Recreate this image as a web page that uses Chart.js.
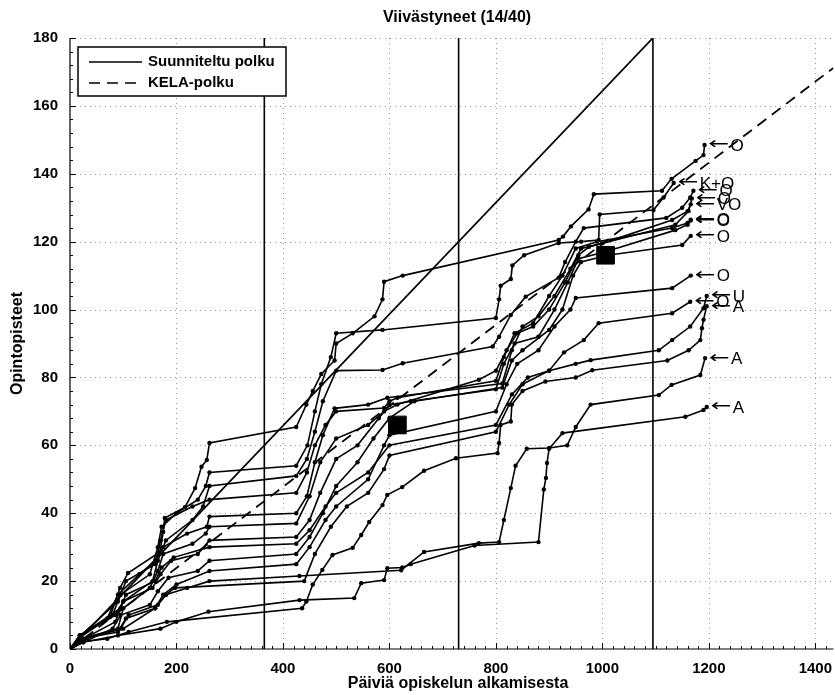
<!DOCTYPE html>
<html lang="fi">
<head>
<meta charset="UTF-8">
<title>Viivästyneet (14/40)</title>
<style>
    html, body { margin: 0; padding: 0; background: #fff; overflow: hidden; }
    #wrap { width: 835px; height: 695px; }
</style>
</head>
<body>
<div id="wrap"><canvas id="chart" width="835" height="695"></canvas></div>
<script src="https://cdn.jsdelivr.net/npm/chart.js"></script>
<script>
// Akselit
const xTicks = [0, 200, 400, 600, 800, 1000, 1200, 1400];
const yTicks = [0, 20, 40, 60, 80, 100, 120, 140, 160, 180];
const xMax = 1434;
const yearDays = [365, 730, 1095];

// Vertailupolut
const plannedPath = [[0, 0], [1095, 180]];
const kelaPath = [[0, 0], [1434, 171.2]];
const checkpoints = [[615, 66], [1006, 116]];

// Opiskelijoiden polut [päivä, opintopisteet]
const s1 = [[0,0],[19,4],[75,9.4],[94,18],[109,22.4],[169,28.6],[175,34.5],[178,38.6],[216,41.8],[235,47.4],[247,53.7],[257,55.7],[262,60.7],[425,65.4],[444,72],[456,76],[472,81],[497,85],[500,90],[531,93],[572,98],[587,103],[590,108.2],[625,110],[918,120.5],[926,121.5],[941,124.5],[974,129.5],[984,134],[1112,135],[1130,138.5],[1175,143.8],[1190,145.5],[1192,148.5]];
const s2 = [[0,0],[20,3.5],[80,10],[95,16],[150,22],[165,30],[172,36],[200,40],[240,44],[255,48],[262,52],[425,54],[446,60],[460,70],[472,78],[490,86],[500,93],[587,94],[800,97.5],[806,103],[809,107],[828,109],[831,113],[853,116],[918,119.6],[960,120],[993,120.5],[995,128],[1096,129.3],[1115,133],[1134,137.3]];
const s3 = [[0,0],[25,3],[85,8],[100,14],[155,20],[165,26],[180,32],[230,38],[250,42],[262,48],[425,51],[445,56],[460,64],[475,73],[500,82],[587,82.2],[625,84.2],[794,89.1],[806,92],[828,98.4],[856,103.8],[918,109.4],[930,114],[950,120],[965,124],[1120,127],[1150,130],[1165,133],[1171,135]];
const s4 = [[0,0],[18,4],[70,9],[90,16],[130,22],[160,26],[175,30],[220,34],[257,36],[262,39],[425,40],[445,45],[460,55],[475,63],[497,70.9],[560,72],[596,74],[812,78.2],[830,88],[850,95],[880,98],[910,104],[940,112],[960,118],[1000,119.5],[1131,126.4],[1160,129],[1166,131]];
const s5 = [[0,0],[22,3],[90,6],[100,12],[150,18],[165,23],[175,28],[230,31],[255,34],[262,36],[425,37],[450,45],[470,55],[500,62],[560,66],[590,70],[615,72],[768,79.3],[800,82],[820,88],[840,93],[870,95],[900,100],[930,108],[955,116],[975,118.5],[1137,125],[1162,129],[1168,132.7]];
const s6 = [[0,0],[20,4],[85,10],[100,14],[155,18],[170,22],[190,26],[240,28],[262,32],[425,33],[450,38],[470,46],[500,56],[540,60],[580,68],[600,71.9],[640,73],[800,76.5],[815,84],[835,90],[880,92],[910,100],[935,108],[955,115],[1006,117],[1137,123.4],[1160,125],[1166,126.5]];
const s7 = [[0,0],[25,2],[80,6],[95,10],[150,13],[165,17],[185,21],[240,23],[262,26],[425,28],[450,33],[475,40],[500,48],[540,55],[570,62],[600,68],[647,73],[812,77],[830,85],[850,88],[900,94],[925,100],[945,110],[960,114],[1010,116],[1150,119],[1166,121.7]];
const s8 = [[0,0],[20,3],[90,5],[105,9],[160,12],[175,16],[200,19],[262,23],[425,25],[450,30],[480,38],[500,42],[560,50],[590,60],[600,63],[800,70],[820,78],[840,84],[880,88],[910,95],[940,100],[950,103.4],[1131,106.3],[1166,110]];
const s9 = [[0,0],[30,3],[95,6],[110,10],[165,13],[180,16],[197,18],[440,20],[460,28],[490,36],[520,42],[560,46],[590,53],[600,57],[800,64],[825,72],[850,78],[900,82],[928,87.4],[965,91],[993,96],[1131,98.9],[1165,102.3]];
const s10 = [[0,0],[20,4],[95,12],[105,16],[160,20],[172,24],[195,27],[262,30],[425,31],[450,35],[480,42],[500,46],[560,52],[600,60],[800,66],[830,75],[860,80],[900,82],[950,84],[978,85.1],[1106,88],[1131,91],[1165,95],[1190,100.4],[1196,104]];
const s11 = [[0,0],[15,2],[70,3],[110,5],[182,8],[436,12],[444,14],[456,19],[474,23.3],[493,27.7],[531,29.8],[547,33.6],[562,37.4],[587,42.4],[596,45.4],[624,47.7],[665,52.5],[725,56.2],[803,57.7],[806,60.7],[809,66],[828,67],[830,72],[850,76],[893,78.8],[950,80],[981,82.1],[1122,85],[1162,88],[1184,91],[1187,94.5],[1190,97],[1196,101]];
const s12 = [[0,0],[20,3],[100,6],[160,12],[180,16],[220,18],[262,20],[431,21.5],[622,23.2],[665,28.6],[768,31.2],[806,31.5],[815,38],[828,47.4],[837,54],[858,59],[900,59.2],[934,60],[950,65.4],[978,72],[1106,74.8],[1130,77.8],[1184,80.7],[1193,85.7]];
const s13 = [[0,0],[25,2],[90,4],[170,6],[200,8],[260,11],[431,14.4],[534,15],[547,19.4],[590,20.3],[596,23.8],[624,24],[640,25],[760,30.5],[880,31.5],[890,47],[894,50.4],[896,54.8],[900,59],[925,63.6],[1156,68.4],[1190,70.4],[1196,71.3]];
const s14 = [[0,0],[20,4],[90,14],[105,20],[160,25],[170,32],[180,38],[230,42],[262,44],[425,46],[445,52],[460,60],[480,66],[500,70],[590,71],[600,73],[615,74],[800,79],[815,86],[835,93],[870,96],[900,104],[925,110],[950,118],[990,120],[1131,124],[1160,125.5],[1166,126.2]];

const students = [s1, s2, s3, s4, s5, s6, s7, s8, s9, s10, s11, s12, s13, s14];
const endLabels = ['O', 'K+O', 'O', 'VO', 'O', 'O', 'O', 'O', 'O', 'U', 'A', 'A', 'A', 'O'];

const FONT = "'Liberation Sans', Arial, Helvetica, sans-serif";
const toXY = arr => arr.map(p => ({ x: p[0], y: p[1] }));

const datasets = [];
yearDays.forEach(d => datasets.push({
    data: [{ x: d, y: 0 }, { x: d, y: 180 }],
    showLine: true, borderColor: '#000', borderWidth: 1.6, pointRadius: 0
}));
datasets.push({ data: toXY(plannedPath), showLine: true, borderColor: '#000', borderWidth: 1.8, pointRadius: 0 });
datasets.push({ data: toXY(kelaPath), showLine: true, borderColor: '#000', borderWidth: 1.8, borderDash: [11, 7], pointRadius: 0 });
students.forEach(s => datasets.push({
    data: toXY(s), showLine: true, borderColor: '#000', borderWidth: 1.6,
    pointRadius: 2.2, pointBackgroundColor: '#000', pointBorderColor: '#000', pointBorderWidth: 0
}));
datasets.push({
    data: toXY(checkpoints), showLine: false, pointStyle: 'rect', pointRadius: 12.5,
    pointBackgroundColor: '#000', pointBorderColor: '#000'
});

// Ruudukko, akselit, selite ja tekstit
const decor = {
    id: 'decor',
    beforeDatasetsDraw(chart) {
        const { ctx, chartArea: a, scales: { x, y } } = chart;
        const seg = (x1, y1, x2, y2) => { ctx.beginPath(); ctx.moveTo(x1, y1); ctx.lineTo(x2, y2); ctx.stroke(); };
        ctx.save();
        ctx.strokeStyle = '#9a9a9a';
        ctx.lineWidth = 1;
        ctx.setLineDash([1, 4]);
        xTicks.forEach(v => {
            if (v === 0) return;
            const px = Math.round(x.getPixelForValue(v)) + 0.5;
            seg(px, a.top, px, a.bottom);
        });
        yTicks.forEach(v => {
            if (v === 0) return;
            const py = Math.round(y.getPixelForValue(v)) + 0.5;
            seg(a.left, py, a.right, py);
        });
        ctx.setLineDash([]);
        ctx.strokeStyle = '#000';
        for (let d = 0; d <= xMax; d += 20) {
            const px = Math.round(x.getPixelForValue(d)) + 0.5;
            seg(px, a.bottom, px, a.bottom - (d % 200 === 0 ? 6 : 3));
        }
        for (let c = 0; c <= 180; c += 4) {
            const py = Math.round(y.getPixelForValue(c)) + 0.5;
            seg(a.left, py, a.left + (c % 20 === 0 ? 6 : 3), py);
        }
        ctx.lineWidth = 1.2;
        seg(a.left, a.top, a.left, a.bottom);
        seg(a.left, a.bottom, a.right, a.bottom);
        ctx.restore();
    },
    afterDatasetsDraw(chart) {
        const { ctx, scales: { x, y } } = chart;
        ctx.save();
        ctx.fillStyle = '#000';
        ctx.textBaseline = 'middle';
        students.forEach((s, i) => {
            const last = s[s.length - 1];
            const px = x.getPixelForValue(last[0]) + 4;
            const py = y.getPixelForValue(last[1]);
            // nuoli venytettynä vaakasuunnassa
            ctx.save();
            ctx.translate(px, py);
            ctx.scale(1.45, 1);
            ctx.font = '17px "DejaVu Sans", sans-serif';
            ctx.fillText('\u2190', 0, 0);
            ctx.restore();
            ctx.font = '17px ' + FONT;
            ctx.fillText(endLabels[i], px + 22, py + 1);
        });

        // selite
        ctx.fillStyle = '#fff';
        ctx.fillRect(78, 47, 208, 49);
        ctx.strokeStyle = '#000';
        ctx.lineWidth = 1.5;
        ctx.strokeRect(78, 47, 208, 49);
        ctx.beginPath(); ctx.moveTo(89, 62); ctx.lineTo(142, 62); ctx.stroke();
        ctx.setLineDash([11, 7]);
        ctx.beginPath(); ctx.moveTo(89, 83); ctx.lineTo(142, 83); ctx.stroke();
        ctx.setLineDash([]);
        ctx.fillStyle = '#000';
        ctx.font = 'bold 15px ' + FONT;
        ctx.fillText('Suunniteltu polku', 148, 62);
        ctx.fillText('KELA-polku', 148, 83);
        ctx.restore();
    },
    afterDraw(chart) {
        const { ctx, chartArea: a } = chart;
        ctx.save();
        ctx.fillStyle = '#000';
        ctx.font = 'bold 16px ' + FONT;
        ctx.textAlign = 'center';
        ctx.textBaseline = 'middle';
        ctx.fillText('Viivästyneet (14/40)', 457, 18);
        ctx.fillText('Päiviä opiskelun alkamisesta', 458, 684);
        ctx.translate(18, (a.top + a.bottom) / 2);
        ctx.rotate(-Math.PI / 2);
        ctx.fillText('Opintopisteet', 0, 0);
        ctx.restore();
    }
};

new Chart(document.getElementById('chart'), {
    type: 'scatter',
    data: { datasets },
    options: {
        responsive: false,
        animation: false,
        devicePixelRatio: 1,
        layout: { padding: { top: 38, left: 0, right: 0, bottom: 0 }, autoPadding: false },
        plugins: { legend: { display: false }, tooltip: { enabled: false } },
        scales: {
            x: {
                type: 'linear', min: 0, max: xMax,
                afterBuildTicks: s => { s.ticks = xTicks.map(v => ({ value: v })); },
                afterFit: s => { s.height = 46; },
                grid: { display: false }, border: { display: false },
                ticks: { color: '#000', padding: 3, maxRotation: 0, callback: v => String(v), font: { family: FONT, size: 15, weight: 'bold' } }
            },
            y: {
                type: 'linear', min: 0, max: 180,
                afterBuildTicks: s => { s.ticks = yTicks.map(v => ({ value: v })); },
                afterFit: s => { s.width = 70; },
                grid: { display: false }, border: { display: false },
                ticks: { color: '#000', padding: 4, callback: v => String(v), font: { family: FONT, size: 15, weight: 'bold' } }
            }
        }
    },
    plugins: [decor]
});
</script>
</body>
</html>
